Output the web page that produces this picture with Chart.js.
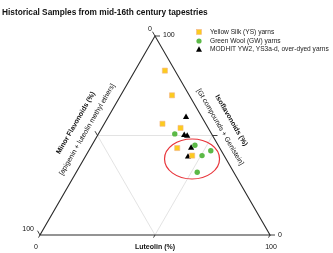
<!DOCTYPE html>
<html>
<head>
<meta charset="utf-8">
<script src="https://cdn.jsdelivr.net/npm/chart.js@4.4.1/dist/chart.umd.min.js"></script>
<style>
  html, body { margin: 0; padding: 0; background: #fff; }
  #wrap { width: 333px; height: 253px; position: relative; }
</style>
</head>
<body>
<div id="wrap"><canvas id="tern"></canvas></div>
<script>
// ternary values, in percent
const ysIso   = [82.6, 70.2, 55.9, 53.8, 43.7, 39.9];
const ysLut   = [13.0, 22.3, 25.3, 34.2, 37.8, 46.2];
const ysMinor = [4.4, 7.5, 18.8, 12.0, 18.5, 13.9];

const gwIso   = [50.8, 45.1, 42.3, 39.9, 31.5];
const gwLut   = [33.2, 44.8, 53.1, 50.5, 52.6];
const gwMinor = [16.0, 10.1, 4.6, 9.6, 15.9];

const modIso   = [59.2, 50.2, 49.8, 43.8, 39.3];
const modLut   = [33.9, 37.6, 39.1, 43.8, 44.7];
const modMinor = [6.9, 12.2, 11.1, 12.4, 16.0];

const seriesNames = ['Yellow Silk (YS) yarns', 'Green Wool (GW) yarns', 'MODHIT YW2, YS3a-d, over-dyed yarns'];
const cornerTicks = [0, 50, 100];

const FONT = "'Liberation Sans', Arial, sans-serif";

// ternary -> cartesian (x = luteolin + iso/2, y = iso)
function toXY(iso, lut, minor) {
  return iso.map((v, i) => {
    const s = v + lut[i] + minor[i];
    return { x: (lut[i] + v / 2) / s * 100, y: v / s * 100 };
  });
}

const ternaryFrame = {
  id: 'ternaryFrame',
  beforeDatasetsDraw(chart) {
    const { ctx, scales: { x: xs, y: ys } } = chart;
    const P = (lut, iso) => ({ x: xs.getPixelForValue(lut + iso / 2), y: ys.getPixelForValue(iso) });
    const top = P(0, 100), bl = P(0, 0), br = P(100, 0);
    const mL = P(0, 50), mR = P(50, 50), mB = P(50, 0);

    ctx.save();
    // 50% guide lines
    ctx.strokeStyle = '#dcdcdc';
    ctx.lineWidth = 0.8;
    ctx.beginPath();
    ctx.moveTo(mL.x, mL.y); ctx.lineTo(mR.x, mR.y);
    ctx.moveTo(mL.x, mL.y); ctx.lineTo(mB.x, mB.y);
    ctx.lineTo(mR.x, mR.y);
    ctx.stroke();

    // outline
    ctx.strokeStyle = '#2a2a2a';
    ctx.lineWidth = 1.1;
    ctx.beginPath();
    ctx.moveTo(top.x, top.y); ctx.lineTo(bl.x, bl.y); ctx.lineTo(br.x, br.y); ctx.closePath();
    ctx.stroke();

    // ticks
    ctx.lineWidth = 0.9;
    ctx.beginPath();
    cornerTicks.forEach(t => {
      // isoflavonoids, right edge, ticks to the right
      const r = P(100 - t, t);
      ctx.moveTo(r.x, r.y); ctx.lineTo(r.x + 5, r.y);
      // minor flavonoids, left edge, ticks up-left
      const l = P(0, 100 - t);
      ctx.moveTo(l.x, l.y); ctx.lineTo(l.x - 2.5, l.y - 4.3);
      // luteolin, bottom, ticks down-left
      const b = P(t, 0);
      ctx.moveTo(b.x, b.y); ctx.lineTo(b.x - 1.5, b.y + 2.6);
    });
    ctx.stroke();
    ctx.restore();
  },
  afterDraw(chart) {
    const { ctx, scales: { x: xs, y: ys } } = chart;
    const P = (lut, iso) => ({ x: xs.getPixelForValue(lut + iso / 2), y: ys.getPixelForValue(iso) });
    const top = P(0, 100), bl = P(0, 0), br = P(100, 0);

    ctx.save();
    // highlight ellipse round the cluster
    const c = P(47, 38.2);
    ctx.strokeStyle = '#e8343a';
    ctx.lineWidth = 1.2;
    ctx.beginPath();
    ctx.ellipse(c.x, c.y, 27.5, 20, 0, 0, Math.PI * 2);
    ctx.stroke();

    ctx.fillStyle = '#111';
    ctx.textBaseline = 'middle';

    // title
    ctx.font = 'bold 8.3px ' + FONT;
    ctx.textAlign = 'left';
    ctx.fillText('Historical Samples from mid-16th century tapestries', 2, 13);

    // corner labels
    ctx.font = '7px ' + FONT;
    ctx.textAlign = 'center';
    ctx.fillText('0', top.x - 5, top.y - 7);
    ctx.textAlign = 'left';
    ctx.fillText('100', top.x + 8, top.y - 1);
    ctx.textAlign = 'right';
    ctx.fillText('100', bl.x - 6, bl.y - 6);
    ctx.textAlign = 'center';
    ctx.fillText('0', bl.x - 4, bl.y + 12);
    ctx.textAlign = 'left';
    ctx.fillText('0', br.x + 8, br.y);
    ctx.textAlign = 'center';
    ctx.fillText('100', br.x + 1, br.y + 12);

    // bottom axis title
    ctx.font = 'bold 7px ' + FONT;
    ctx.fillText('Luteolin (%)', (bl.x + br.x) / 2, bl.y + 12);

    const put = (txt, font, mid, n, off, ang) => {
      ctx.save();
      ctx.translate(mid.x + n.x * off, mid.y + n.y * off);
      ctx.rotate(ang);
      ctx.font = font;
      ctx.textAlign = 'center';
      ctx.fillText(txt, 0, 0);
      ctx.restore();
    };

    // left axis titles, along the edge, outside
    const angL = Math.atan2(top.y - bl.y, top.x - bl.x);
    const midL = { x: (top.x + bl.x) / 2, y: (top.y + bl.y) / 2 };
    const nL = { x: Math.sin(angL), y: -Math.cos(angL) };
    put('Minor Flavonoids (%)', 'bold 7px ' + FONT, midL, nL, 25, angL);
    put('[apigenin + luteolin methyl ethers]', '7px ' + FONT, midL, nL, 12, angL);

    // right axis titles
    const angR = Math.atan2(br.y - top.y, br.x - top.x);
    const midR = { x: (top.x + br.x) / 2 - 2, y: (top.y + br.y) / 2 - 3 };
    const nR = { x: Math.sin(angR), y: -Math.cos(angR) };
    put('Isoflavonoids (%)', 'bold 7px ' + FONT, midR, nR, 24, angR);
    put('[Gt compounds + Genistein]', '7px ' + FONT, midR, nR, 11, angR);

    // legend
    const lx = 199, ly = [32, 41, 49.5];
    chart.data.datasets.forEach((ds, i) => {
      ctx.fillStyle = ds.backgroundColor;
      ctx.strokeStyle = ds.borderColor;
      ctx.lineWidth = 0.6;
      if (ds.pointStyle === 'rect') {
        ctx.fillRect(lx - 2.5, ly[i] - 2.5, 5, 5);
        ctx.strokeRect(lx - 2.5, ly[i] - 2.5, 5, 5);
      } else if (ds.pointStyle === 'circle') {
        ctx.beginPath(); ctx.arc(lx, ly[i], 2.6, 0, Math.PI * 2); ctx.fill();
      } else {
        ctx.beginPath();
        ctx.moveTo(lx, ly[i] - 3.2); ctx.lineTo(lx + 3, ly[i] + 2.3); ctx.lineTo(lx - 3, ly[i] + 2.3);
        ctx.closePath(); ctx.fill();
      }
      ctx.fillStyle = '#222';
      ctx.font = '6.6px ' + FONT;
      ctx.textAlign = 'left';
      ctx.fillText(ds.label, lx + 11, ly[i]);
    });
    ctx.restore();
  }
};

new Chart(document.getElementById('tern'), {
  type: 'scatter',
  data: {
    datasets: [
      {
        label: seriesNames[0],
        data: toXY(ysIso, ysLut, ysMinor),
        pointStyle: 'rect',
        pointRadius: 3.6,
        backgroundColor: '#fccb1e',
        borderColor: '#f3b58a',
        borderWidth: 0.6,
        clip: false
      },
      {
        label: seriesNames[1],
        data: toXY(gwIso, gwLut, gwMinor),
        pointStyle: 'circle',
        pointRadius: 2.7,
        backgroundColor: '#5cb947',
        borderColor: '#5cb947',
        borderWidth: 0,
        clip: false
      },
      {
        label: seriesNames[2],
        data: toXY(modIso, modLut, modMinor),
        pointStyle: 'triangle',
        pointRadius: 3.6,
        backgroundColor: '#000',
        borderColor: '#000',
        borderWidth: 0,
        clip: false
      }
    ]
  },
  options: {
    responsive: true,
    maintainAspectRatio: false,
    animation: false,
    layout: { padding: { left: 40, right: 63, top: 36, bottom: 18 } },
    plugins: { legend: { display: false }, tooltip: { enabled: false } },
    scales: {
      x: { type: 'linear', min: 0, max: 100, display: false },
      y: { type: 'linear', min: 0, max: 100, display: false }
    }
  },
  plugins: [ternaryFrame]
});
</script>
</body>
</html>
